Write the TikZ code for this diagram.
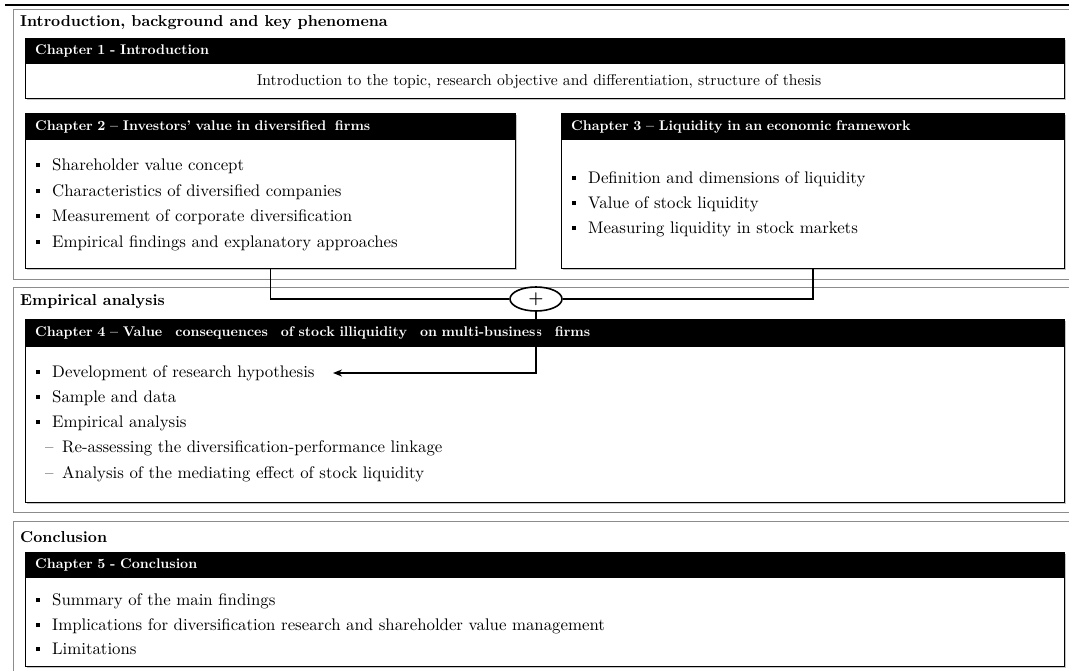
\documentclass[tikz,border=0pt]{standalone}
\usepackage{fontspec}
\setmainfont{lmroman10-regular.otf}[BoldFont=lmroman10-bold.otf, ItalicFont=lmroman10-italic.otf, Ligatures=TeX]
\usetikzlibrary{shapes.geometric,shadows,arrows.meta}
\tikzset{
  secframe/.style={draw=black!45, line width=1.2pt, anchor=north west, inner sep=0, fill=none},
  sectitle/.style={anchor=west, inner sep=0, font=\bfseries\fontsize{15.8}{18}\selectfont},
  chbox/.style={draw=black, line width=1pt, fill=white, anchor=north west, inner sep=0,
     drop shadow={shadow xshift=1.2pt, shadow yshift=-1.5pt, fill=black!45}},
  hdr/.style={fill=black, text=white, anchor=north west, inner xsep=10pt, inner ysep=0,
     align=left, font=\bfseries\fontsize{14}{16}\selectfont},
  itm/.style={anchor=west, inner sep=0, text height=11pt, text depth=3pt, font=\fontsize{16.8}{19}\selectfont},
  conn/.style={draw=black, line width=1.6pt},
  plusnode/.style={ellipse, draw=black, line width=1.6pt, fill=white, minimum width=52pt, minimum height=24pt, inner sep=0, font=\bfseries\fontsize{17}{18}\selectfont}
}
\newcommand{\sqb}{\makebox[16pt][l]{\raisebox{3pt}{\rule{3.8pt}{3.8pt}}}}
\newcommand{\dsh}{\makebox[17pt][l]{–}}
\newcommand{\wsp}{\hspace{13pt}}
\begin{document}
\begin{tikzpicture}[x=1pt,y=-1pt]
\useasboundingbox (0,0) rectangle (1069,670);
\fill[white] (0,0) rectangle (1069,670);

% top rule
\draw[line width=2.6pt] (5,5) -- (1075,5);

% section frames
\node[secframe, minimum width=1070pt, minimum height=270pt] (sec1) at (13,9) {};
\node[secframe, minimum width=1070pt, minimum height=225pt] (sec2) at (13,287) {};
\node[secframe, minimum width=1070pt, minimum height=160pt] (sec3) at (13,521) {};

\node[sectitle] (t1) at (20,23) {Introduction, background and key phenomena};
\node[sectitle] (t2) at (20,302) {Empirical analysis};
\node[sectitle] (t3) at (20,537) {Conclusion};

% Chapter 1
\node[chbox, minimum width=1039pt, minimum height=60pt] (ch1) at (25,38) {};
\node[hdr, text width=1019pt, minimum height=26pt] (ch1h) at (ch1.north west) {Chapter 1 - Introduction};
\node[itm, anchor=center, font=\fontsize{15.6}{18}\selectfont] (ch1t) at (539,81) {Introduction to the topic, research objective and differentiation, structure of thesis};

% Chapter 2
\node[chbox, minimum width=490pt, minimum height=155pt] (ch2) at (25,113) {};
\node[hdr, text width=470pt, minimum height=27pt] (ch2h) at (ch2.north west) {Chapter 2 – Investors’ value in diversified\hspace{4pt} firms};
\node[itm] (c2a) at (36,166) {\sqb Shareholder value concept};
\node[itm] (c2b) at (36,192) {\sqb Characteristics of diversified companies};
\node[itm] (c2c) at (36,217) {\sqb Measurement of corporate diversification};
\node[itm] (c2d) at (36,243) {\sqb Empirical findings and explanatory approaches};

% Chapter 3
\node[chbox, minimum width=503pt, minimum height=155pt] (ch3) at (561,113) {};
\node[hdr, text width=483pt, minimum height=27pt] (ch3h) at (ch3.north west) {Chapter 3 – Liquidity in an economic framework};
\node[itm] (c3a) at (572,179) {\sqb Definition and dimensions of liquidity};
\node[itm] (c3b) at (572,204) {\sqb Value of stock liquidity};
\node[itm] (c3c) at (572,229) {\sqb Measuring liquidity in stock markets};

% Chapter 4
\node[chbox, minimum width=1039pt, minimum height=183pt] (ch4) at (25,319) {};
\node[hdr, text width=1019pt, minimum height=28pt] (ch4h) at (ch4.north west) {Chapter 4 – Value\wsp consequences\wsp of stock illiquidity\wsp on multi-business\wsp firms};
\node[itm] (c4a) at (36,373) {\sqb Development of research hypothesis};
\node[itm] (c4b) at (36,398) {\sqb Sample and data};
\node[itm] (c4c) at (36,423) {\sqb Empirical analysis};
\node[itm] (c4d) at (45,448) {\dsh Re-assessing the diversification-performance linkage};
\node[itm] (c4e) at (45,474) {\dsh Analysis of the mediating effect of stock liquidity};

% Chapter 5
\node[chbox, minimum width=1039pt, minimum height=114pt] (ch5) at (25,552) {};
\node[hdr, text width=1019pt, minimum height=26pt] (ch5h) at (ch5.north west) {Chapter 5 - Conclusion};
\node[itm] (c5a) at (36,601) {\sqb Summary of the main findings};
\node[itm] (c5b) at (36,626) {\sqb Implications for diversification research and shareholder value management};
\node[itm] (c5c) at (36,650) {\sqb Limitations};

% connectors
\node[plusnode] (plus) at (536,299) {+};
\coordinate (arrtip) at (333,373);
\draw[conn] (ch2.south) |- (plus.west);
\draw[conn] (ch3.south) |- (plus.east);
\draw[conn, -{Stealth[length=9pt,width=7pt]}] (plus.south) |- (arrtip);
\end{tikzpicture}
\end{document}
